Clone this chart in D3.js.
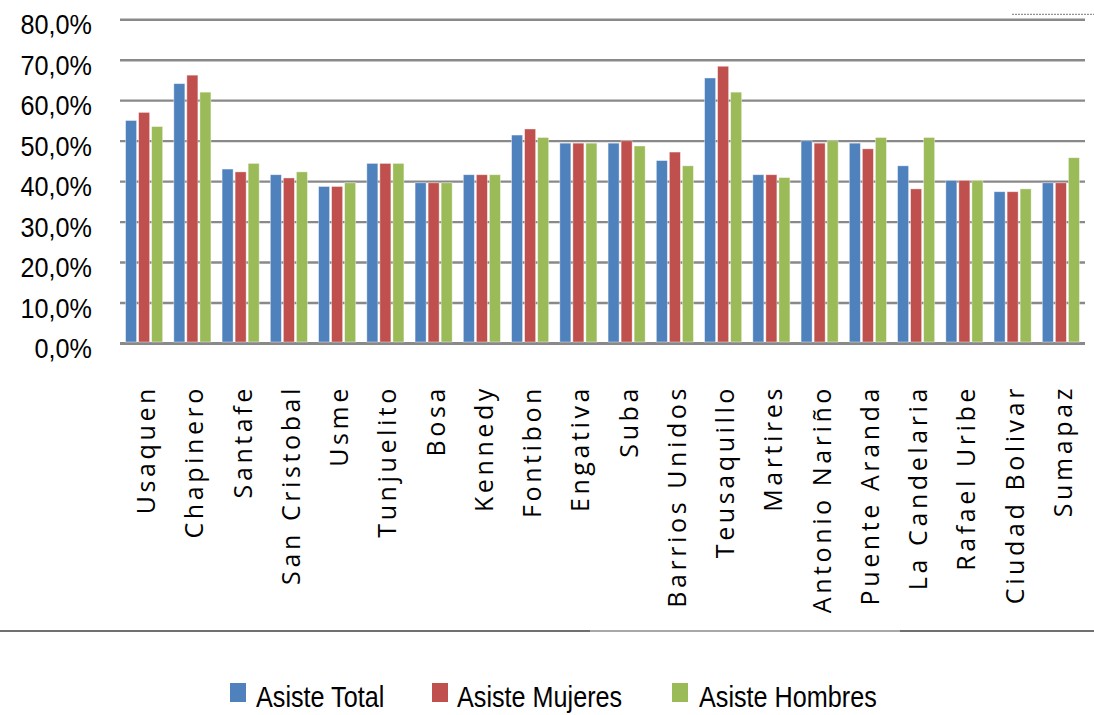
<!DOCTYPE html>
<html>
<head>
<meta charset="utf-8">
<script src="https://cdn.jsdelivr.net/npm/d3@7"></script>
<style>
  html, body { margin: 0; padding: 0; background: #fff; }
  svg { display: block; }
</style>
</head>
<body>
<svg id="chart" width="1094" height="715"></svg>
<script>
const categories = ["Usaquen","Chapinero","Santafe","San Cristobal","Usme","Tunjuelito","Bosa","Kennedy","Fontibon","Engativa","Suba","Barrios Unidos","Teusaquillo","Martires","Antonio Nariño","Puente Aranda","La Candelaria","Rafael Uribe","Ciudad Bolivar","Sumapaz"];
const seriesNames = ["Asiste Total","Asiste Mujeres","Asiste Hombres"];
const asisteTotal   = [0.551,0.642,0.431,0.417,0.388,0.445,0.397,0.417,0.515,0.495,0.495,0.452,0.656,0.417,0.501,0.495,0.439,0.403,0.375,0.397];
const asisteMujeres = [0.571,0.663,0.424,0.409,0.388,0.445,0.397,0.417,0.530,0.495,0.501,0.473,0.685,0.417,0.495,0.481,0.382,0.403,0.375,0.397];
const asisteHombres = [0.536,0.621,0.445,0.424,0.397,0.445,0.397,0.417,0.509,0.495,0.488,0.439,0.621,0.410,0.501,0.509,0.509,0.403,0.382,0.459];
const yTicks = [0,0.1,0.2,0.3,0.4,0.5,0.6,0.7,0.8];
const colors = ["#4F81BD","#C0504D","#9BBB59"];

const seriesValues = [asisteTotal, asisteMujeres, asisteHombres];
const svg = d3.select("#chart");

const plotLeft = 120, plotRight = 1085, plotTop = 19.7, plotBottom = 343.5;

const x = d3.scaleBand().domain(categories).range([plotLeft, plotRight]).paddingInner(0.19).paddingOuter(0.095);
const xs = d3.scaleBand().domain(seriesNames).range([0, x.bandwidth()]).padding(0);
const y = d3.scaleLinear().domain([0, 0.8]).range([plotBottom, plotTop]);

const locale = d3.formatLocale({decimal: ",", thousands: ".", grouping: [3], currency: ["", "€"]});
const fmt = locale.format(".1%");

// gridlines
svg.append("g").selectAll("line").data(yTicks).join("line")
  .attr("x1", plotLeft).attr("x2", plotRight)
  .attr("y1", d => y(d)).attr("y2", d => y(d))
  .attr("stroke", "#898989").attr("stroke-width", d => d === 0 ? 3 : 2.4);

// y tick labels (condensed look via horizontal scale)
svg.append("g").selectAll("text").data(yTicks).join("text")
  .attr("transform", d => `translate(92,${y(d) + 14.5}) scale(0.9,1)`)
  .attr("text-anchor", "end")
  .attr("font-family", "'Liberation Sans', Arial, sans-serif")
  .attr("font-size", 28).attr("fill", "#000")
  .text(d => fmt(d));

// bars
const groups = svg.append("g").selectAll("g").data(categories).join("g")
  .attr("transform", c => `translate(${x(c)},0)`);
groups.selectAll("rect").data((c, i) => seriesNames.map((s, k) => ({s, k, v: seriesValues[k][i]}))).join("rect")
  .attr("x", d => xs(d.s) + 1)
  .attr("width", xs.bandwidth() - 2)
  .attr("y", d => y(d.v))
  .attr("height", d => y(0) - y(d.v) - 1.5)
  .attr("fill", d => colors[d.k])
  .attr("stroke", "#fff").attr("stroke-opacity", 0.5).attr("stroke-width", 0.8);

// category labels
svg.append("g").selectAll("text").data(categories).join("text")
  .attr("transform", c => `translate(${x(c) + x.bandwidth() / 2 + 11},385) rotate(-90)`)
  .attr("text-anchor", "end")
  .attr("font-family", "'Open Sans', sans-serif")
  .attr("font-size", 25)
  .attr("letter-spacing", "3.6px")
  .attr("fill", "#000")
  .text(c => c);

// separator line
svg.append("line").attr("x1", 0).attr("x2", 1094).attr("y1", 631).attr("y2", 631)
  .attr("stroke", "#404040").attr("stroke-width", 1.5);
svg.append("line").attr("x1", 590).attr("x2", 900).attr("y1", 631).attr("y2", 631)
  .attr("stroke", "#bbbbbb").attr("stroke-width", 1.5);
// top-right dashed fragment
svg.append("line").attr("x1", 1012).attr("x2", 1094).attr("y1", 14.3).attr("y2", 14.3)
  .attr("stroke", "#777").attr("stroke-width", 1).attr("stroke-dasharray", "2,1");

// legend
const legendSquareX = [230, 432, 672];
const legendTextX = [256, 457, 699];
const legend = svg.append("g").selectAll("g").data(seriesNames).join("g");
legend.append("rect")
  .attr("x", (d, i) => legendSquareX[i]).attr("y", 683)
  .attr("width", 16).attr("height", 19)
  .attr("fill", (d, i) => colors[i]);
legend.append("text")
  .attr("transform", (d, i) => `translate(${legendTextX[i]},707) scale(0.84,1)`)
  .attr("font-family", "'Liberation Sans', Arial, sans-serif")
  .attr("font-size", 30).attr("fill", "#000")
  .text(d => d);
</script>
</body>
</html>
